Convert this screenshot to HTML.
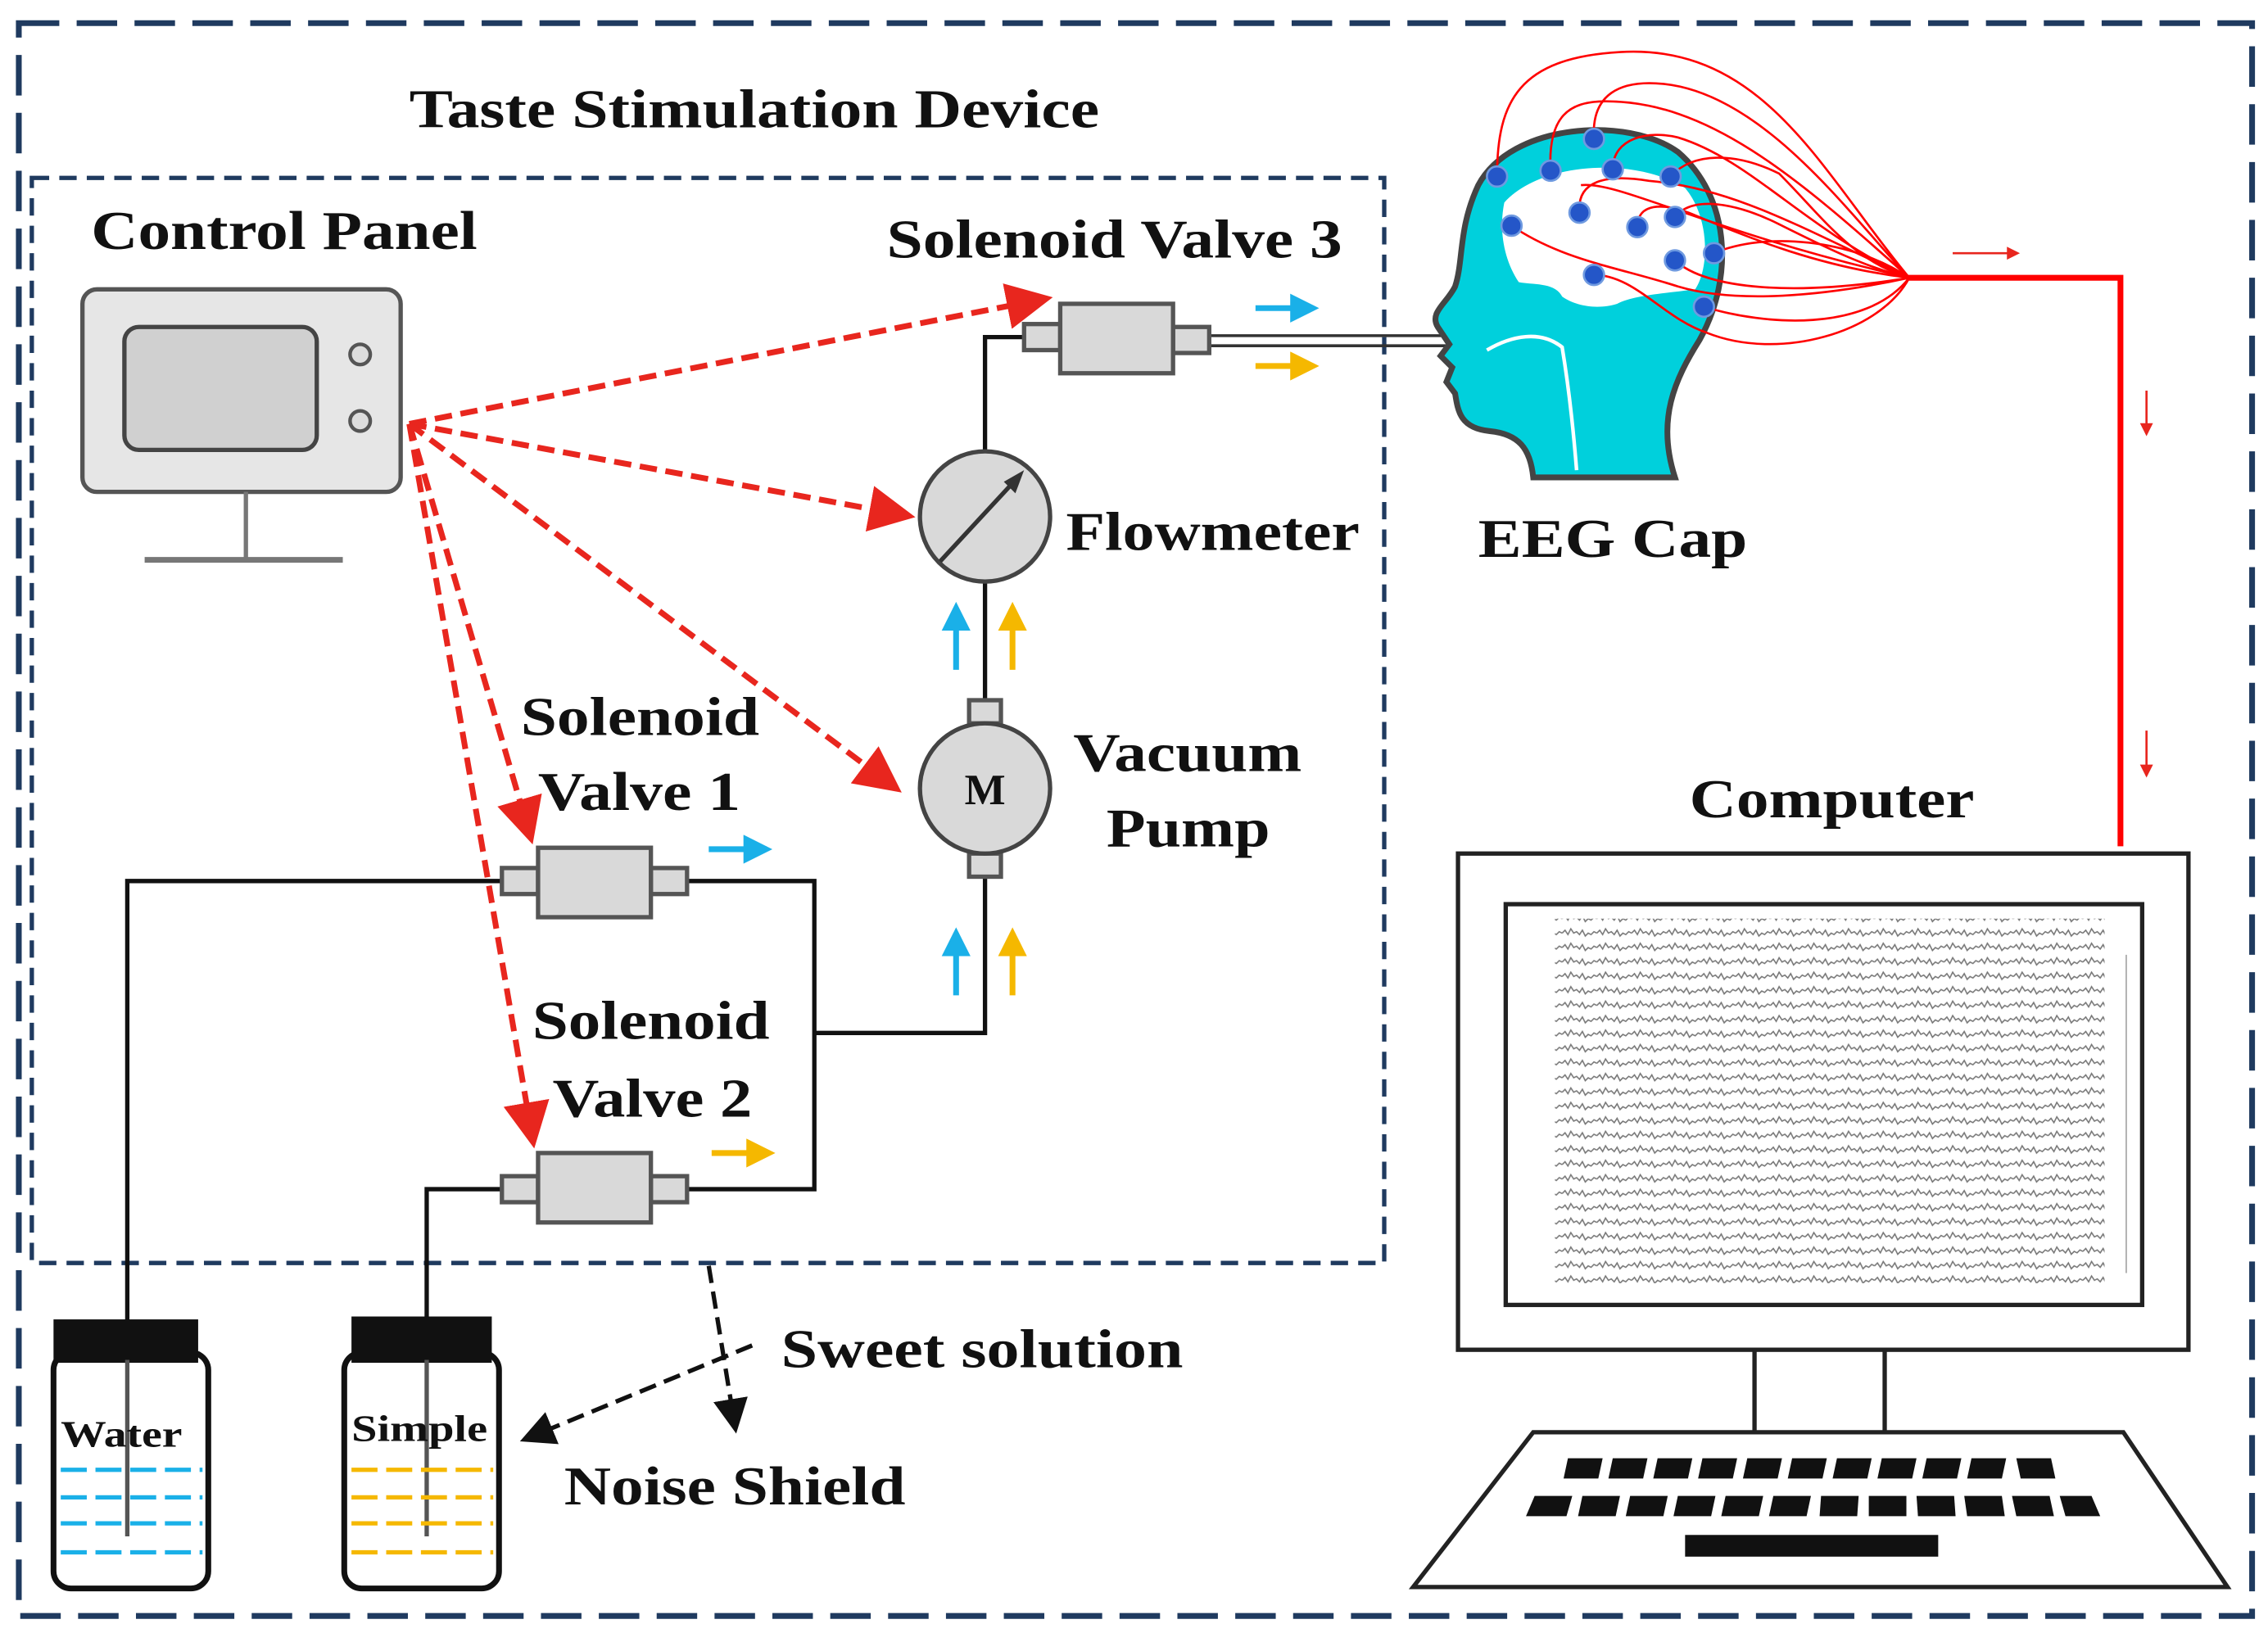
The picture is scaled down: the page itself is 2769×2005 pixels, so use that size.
<!DOCTYPE html>
<html><head><meta charset="utf-8"><style>
html,body{margin:0;padding:0;background:#fff;}
svg{display:block;}
text{font-family:"Liberation Serif",serif;font-weight:bold;fill:#111;}
</style></head><body>
<svg width="2769" height="2005" viewBox="0 0 1568 1135" preserveAspectRatio="none" xmlns="http://www.w3.org/2000/svg">
<defs>
<marker id="ra" markerWidth="8" markerHeight="8" refX="6" refY="4" orient="auto" markerUnits="strokeWidth"><path d="M0,0 L8,4 L0,8 Z" fill="#e8261e"/></marker>
<marker id="ka" markerWidth="8" markerHeight="8" refX="6" refY="4" orient="auto" markerUnits="strokeWidth"><path d="M0,0 L8,4 L0,8 Z" fill="#111"/></marker>
<marker id="ba" markerWidth="5" markerHeight="5" refX="4" refY="2.5" orient="auto" markerUnits="strokeWidth"><path d="M0,0 L5,2.5 L0,5 Z" fill="#1ab0e8"/></marker>
<marker id="ya" markerWidth="5" markerHeight="5" refX="4" refY="2.5" orient="auto" markerUnits="strokeWidth"><path d="M0,0 L5,2.5 L0,5 Z" fill="#f5b800"/></marker>
<marker id="sa" markerWidth="6" markerHeight="6" refX="5" refY="3" orient="auto" markerUnits="strokeWidth"><path d="M0,0 L6,3 L0,6 Z" fill="#e8261e"/></marker>
<pattern id="wv" patternUnits="userSpaceOnUse" width="24" height="10">
<path d="M0,5 l2,-2 l2,3 l2,-4 l2,3 l2,-1 l2,2 l2,-3 l2,4 l2,-2 l2,1 l2,-2 l2,1" fill="none" stroke="#777" stroke-width="0.9"/>
</pattern>
</defs>
<rect width="1568" height="1135" fill="#fff"/>
<rect x="13" y="16" width="1544" height="1101" fill="none" stroke="#1f3a5f" stroke-width="4" stroke-dasharray="28,12"/>
<rect x="22" y="123" width="935" height="750" fill="none" stroke="#1f3a5f" stroke-width="3" stroke-dasharray="12,7"/>
<text x="283" y="88" font-size="38" textLength="477" lengthAdjust="spacingAndGlyphs">Taste Stimulation Device</text>
<text x="63" y="172" font-size="38" textLength="267" lengthAdjust="spacingAndGlyphs">Control Panel</text>
<text x="613" y="178" font-size="38" textLength="315" lengthAdjust="spacingAndGlyphs">Solenoid Valve 3</text>
<text x="737" y="380" font-size="38" textLength="203" lengthAdjust="spacingAndGlyphs">Flowmeter</text>
<text x="742" y="533" font-size="38" textLength="158" lengthAdjust="spacingAndGlyphs">Vacuum</text>
<text x="765" y="585" font-size="38" textLength="113" lengthAdjust="spacingAndGlyphs">Pump</text>
<text x="360" y="508" font-size="38" textLength="165" lengthAdjust="spacingAndGlyphs">Solenoid</text>
<text x="372" y="560" font-size="38" textLength="140" lengthAdjust="spacingAndGlyphs">Valve 1</text>
<text x="368" y="718" font-size="38" textLength="164" lengthAdjust="spacingAndGlyphs">Solenoid</text>
<text x="382" y="772" font-size="38" textLength="138" lengthAdjust="spacingAndGlyphs">Valve 2</text>
<text x="540" y="945" font-size="38" textLength="278" lengthAdjust="spacingAndGlyphs">Sweet solution</text>
<text x="390" y="1040" font-size="38" textLength="236" lengthAdjust="spacingAndGlyphs">Noise Shield</text>
<text x="1022" y="385" font-size="38" textLength="186" lengthAdjust="spacingAndGlyphs">EEG Cap</text>
<text x="1168" y="565" font-size="38" textLength="197" lengthAdjust="spacingAndGlyphs">Computer</text>

<!-- control panel -->
<rect x="57" y="200" width="220" height="140" rx="10" fill="#e6e6e6" stroke="#555" stroke-width="3"/>
<rect x="86" y="226" width="133" height="85" rx="10" fill="#d0d0d0" stroke="#444" stroke-width="3"/>
<circle cx="249" cy="245" r="7" fill="#ddd" stroke="#555" stroke-width="2.5"/>
<circle cx="249" cy="291" r="7" fill="#ddd" stroke="#555" stroke-width="2.5"/>
<line x1="170" y1="340" x2="170" y2="386" stroke="#777" stroke-width="3"/>
<line x1="100" y1="387" x2="237" y2="387" stroke="#777" stroke-width="4"/>

<!-- pipes -->
<g fill="none" stroke="#111" stroke-width="3">
<polyline points="708,233 681,233 681,313"/>
<line x1="681" y1="402" x2="681" y2="485"/>
<polyline points="681,606 681,714 563,714"/>
<polyline points="475,609 563,609 563,822 475,822"/>
<polyline points="347,609 88,609 88,1062"/>
<polyline points="347,822 295,822 295,1062"/>
</g>
<line x1="836" y1="232" x2="1000" y2="232" stroke="#333" stroke-width="2"/>
<line x1="836" y1="239" x2="1000" y2="239" stroke="#333" stroke-width="2"/>

<!-- valves -->
<g fill="#d9d9d9" stroke="#555" stroke-width="3">
<rect x="708" y="224" width="25" height="18"/><rect x="811" y="226" width="25" height="18"/><rect x="733" y="210" width="78" height="48"/>
<rect x="347" y="600" width="25" height="18"/><rect x="450" y="600" width="25" height="18"/><rect x="372" y="586" width="78" height="48"/>
<rect x="347" y="813" width="25" height="18"/><rect x="450" y="813" width="25" height="18"/><rect x="372" y="797" width="78" height="48"/>
<rect x="670" y="484" width="22" height="16"/><rect x="670" y="590" width="22" height="16"/>
</g>
<circle cx="681" cy="357" r="45" fill="#d9d9d9" stroke="#444" stroke-width="3"/>
<line x1="650" y1="388" x2="700" y2="334" stroke="#333" stroke-width="3"/>
<path d="M708,325 L694,333 L702,341 Z" fill="#333"/>
<circle cx="681" cy="545" r="45" fill="#d9d9d9" stroke="#444" stroke-width="3"/>
<text x="681" y="556" font-size="30" text-anchor="middle">M</text>

<!-- flow arrows -->
<g stroke-width="4">
<line x1="868" y1="213" x2="908" y2="213" stroke="#1ab0e8" marker-end="url(#ba)"/>
<line x1="868" y1="253" x2="908" y2="253" stroke="#f5b800" marker-end="url(#ya)"/>
<line x1="490" y1="587" x2="530" y2="587" stroke="#1ab0e8" marker-end="url(#ba)"/>
<line x1="492" y1="797" x2="532" y2="797" stroke="#f5b800" marker-end="url(#ya)"/>
<line x1="661" y1="463" x2="661" y2="420" stroke="#1ab0e8" marker-end="url(#ba)"/>
<line x1="700" y1="463" x2="700" y2="420" stroke="#f5b800" marker-end="url(#ya)"/>
<line x1="661" y1="688" x2="661" y2="645" stroke="#1ab0e8" marker-end="url(#ba)"/>
<line x1="700" y1="688" x2="700" y2="645" stroke="#f5b800" marker-end="url(#ya)"/>
</g>

<!-- red control lines -->
<g stroke="#e8261e" stroke-width="4" stroke-dasharray="12,6" fill="none" marker-end="url(#ra)">
<line x1="283" y1="293" x2="720" y2="207"/>
<line x1="283" y1="293" x2="625" y2="356"/>
<line x1="283" y1="293" x2="617" y2="543"/>
<line x1="283" y1="293" x2="366" y2="576"/>
<line x1="283" y1="293" x2="368" y2="786"/>
</g>

<!-- noise shield arrows -->
<g stroke="#111" stroke-width="3" stroke-dasharray="12,6" fill="none" marker-end="url(#ka)">
<line x1="490" y1="875" x2="508" y2="985"/>
<line x1="520" y1="930" x2="365" y2="994"/>
</g>

<!-- bottles -->
<rect x="37" y="935" width="107" height="163" rx="12" fill="#fff" stroke="#111" stroke-width="4"/>
<rect x="37" y="912" width="100" height="30" fill="#111"/>
<line x1="88" y1="940" x2="88" y2="1062" stroke="#555" stroke-width="3"/>
<g stroke="#1ab0e8" stroke-width="3" stroke-dasharray="18,6">
<line x1="42" y1="1016" x2="140" y2="1016"/><line x1="42" y1="1035" x2="140" y2="1035"/><line x1="42" y1="1053" x2="140" y2="1053"/><line x1="42" y1="1073" x2="140" y2="1073"/>
</g>
<text x="42" y="1000" font-size="26" textLength="84" lengthAdjust="spacingAndGlyphs">Water</text>
<rect x="238" y="935" width="107" height="163" rx="12" fill="#fff" stroke="#111" stroke-width="4"/>
<rect x="243" y="910" width="97" height="32" fill="#111"/>
<line x1="295" y1="940" x2="295" y2="1062" stroke="#555" stroke-width="3"/>
<g stroke="#f5b800" stroke-width="3" stroke-dasharray="18,6">
<line x1="243" y1="1016" x2="341" y2="1016"/><line x1="243" y1="1035" x2="341" y2="1035"/><line x1="243" y1="1053" x2="341" y2="1053"/><line x1="243" y1="1073" x2="341" y2="1073"/>
</g>
<text x="243" y="996" font-size="26" textLength="94" lengthAdjust="spacingAndGlyphs">Simple</text>

<!-- head -->
<path d="M1022,128 C1045,85 1125,80 1160,105 C1195,135 1200,190 1175,235 C1158,262 1145,290 1158,330 L1060,330 C1058,310 1050,300 1030,298 C1010,296 1008,285 1006,272 L1000,264 1004,254 996,246 1002,238 994,226 C988,216 1000,210 1006,198 C1012,180 1008,158 1022,128 Z" fill="#00d0dc" stroke="#444" stroke-width="4"/>
<path d="M1040,140 C1065,112 1130,108 1165,130 C1182,150 1182,185 1172,200 C1150,203 1130,204 1118,210 C1105,214 1090,212 1080,205 C1075,195 1060,197 1050,195 C1040,180 1036,160 1040,140 Z" fill="#fff"/>
<path d="M1028,242 C1045,232 1065,228 1080,240 C1085,270 1088,300 1090,325" fill="none" stroke="#fff" stroke-width="2.5"/>
<g fill="none" stroke="#f00" stroke-width="1.5">
<path d="M1035,122 C1035,70 1050,40 1120,36 C1220,30 1260,120 1320,192"/>
<path d="M1072,118 C1070,80 1085,70 1110,70 C1180,70 1240,120 1320,192"/>
<path d="M1102,96 C1100,65 1120,55 1150,58 C1220,65 1280,150 1320,192"/>
<path d="M1115,117 C1115,95 1140,90 1160,95 C1210,110 1250,160 1320,192"/>
<path d="M1155,122 C1170,105 1200,105 1230,120 C1260,150 1280,180 1320,192"/>
<path d="M1092,147 C1090,125 1110,120 1140,125 C1200,130 1250,160 1320,192"/>
<path d="M1132,157 C1132,140 1150,140 1170,148 C1210,165 1260,185 1320,192"/>
<path d="M1158,150 C1170,135 1200,140 1230,155 C1260,170 1290,185 1320,192"/>
<path d="M1045,156 C1080,180 1120,185 1160,198 C1200,210 1260,205 1320,192"/>
<path d="M1185,175 C1220,160 1280,165 1320,192"/>
<path d="M1158,180 C1180,200 1240,205 1320,192"/>
<path d="M1102,190 C1130,190 1150,220 1180,230 C1230,250 1300,230 1320,192"/>
<path d="M1178,212 C1220,225 1290,230 1320,192"/>
<path d="M1093,128 C1120,125 1180,160 1320,192"/>
</g>
<g fill="#2456c8" stroke="#6f9ae0" stroke-width="1.5">
<circle cx="1035" cy="122" r="7"/><circle cx="1072" cy="118" r="7"/><circle cx="1102" cy="96" r="7"/><circle cx="1115" cy="117" r="7"/><circle cx="1155" cy="122" r="7"/>
<circle cx="1045" cy="156" r="7"/><circle cx="1092" cy="147" r="7"/><circle cx="1132" cy="157" r="7"/><circle cx="1158" cy="150" r="7"/>
<circle cx="1185" cy="175" r="7"/><circle cx="1158" cy="180" r="7"/><circle cx="1102" cy="190" r="7"/><circle cx="1178" cy="212" r="7"/>
</g>
<polyline points="1318,192 1466,192 1466,585" fill="none" stroke="#f00" stroke-width="4"/>
<line x1="1350" y1="175" x2="1395" y2="175" stroke="#e8261e" stroke-width="1.5" marker-end="url(#sa)"/>
<line x1="1484" y1="270" x2="1484" y2="300" stroke="#e8261e" stroke-width="1.5" marker-end="url(#sa)"/>
<line x1="1484" y1="505" x2="1484" y2="536" stroke="#e8261e" stroke-width="1.5" marker-end="url(#sa)"/>

<!-- computer -->
<rect x="1008" y="590" width="505" height="343" fill="#fff" stroke="#222" stroke-width="3"/>
<rect x="1041" y="625" width="440" height="277" fill="#fff" stroke="#222" stroke-width="3"/>
<rect x="1075" y="635" width="380" height="252" fill="url(#wv)"/>
<line x1="1470" y1="660" x2="1470" y2="880" stroke="#aaa" stroke-width="1"/>
<line x1="1213" y1="933" x2="1213" y2="990" stroke="#222" stroke-width="3"/>
<line x1="1303" y1="933" x2="1303" y2="990" stroke="#222" stroke-width="3"/>
<polygon points="1060,990 1468,990 1540,1097 977,1097" fill="#fff" stroke="#222" stroke-width="3"/>
<g fill="#111">
<polygon points="1084,1008 1108,1008 1105,1022 1081,1022"/>
<polygon points="1115,1008 1139,1008 1136,1022 1112,1022"/>
<polygon points="1146,1008 1170,1008 1167,1022 1143,1022"/>
<polygon points="1177,1008 1201,1008 1198,1022 1174,1022"/>
<polygon points="1208,1008 1232,1008 1229,1022 1205,1022"/>
<polygon points="1239,1008 1263,1008 1260,1022 1236,1022"/>
<polygon points="1270,1008 1294,1008 1291,1022 1267,1022"/>
<polygon points="1301,1008 1325,1008 1322,1022 1298,1022"/>
<polygon points="1332,1008 1356,1008 1353,1022 1329,1022"/>
<polygon points="1363,1008 1387,1008 1384,1022 1360,1022"/>
<polygon points="1394,1008 1418,1008 1421,1022 1397,1022"/>
<polygon points="1061,1034 1087,1034 1083,1048 1055,1048"/>
<polygon points="1094,1034 1120,1034 1117,1048 1091,1048"/>
<polygon points="1127,1034 1153,1034 1150,1048 1124,1048"/>
<polygon points="1160,1034 1186,1034 1183,1048 1157,1048"/>
<polygon points="1193,1034 1219,1034 1216,1048 1190,1048"/>
<polygon points="1226,1034 1252,1034 1249,1048 1223,1048"/>
<polygon points="1259,1034 1285,1034 1284,1048 1258,1048"/>
<polygon points="1292,1034 1318,1034 1318,1048 1292,1048"/>
<polygon points="1325,1034 1351,1034 1352,1048 1326,1048"/>
<polygon points="1358,1034 1384,1034 1386,1048 1360,1048"/>
<polygon points="1391,1034 1417,1034 1420,1048 1394,1048"/>
<polygon points="1424,1034 1446,1034 1452,1048 1428,1048"/>
</g>
<rect x="1165" y="1061" width="175" height="15" fill="#111"/>
</svg>
</body></html>
